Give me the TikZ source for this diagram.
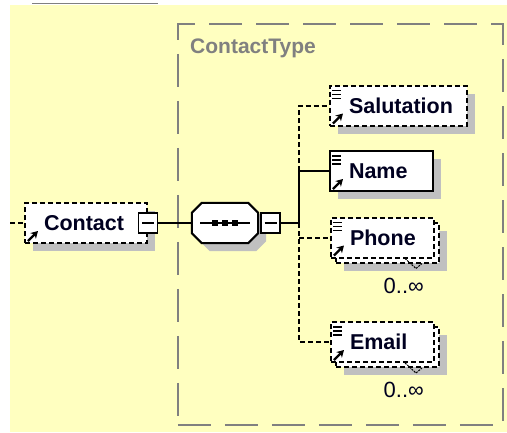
\documentclass[tikz,border=0pt]{standalone}
\usepackage{fontspec}
\setmainfont{Liberation Sans}
\usetikzlibrary{arrows.meta,positioning,shadows}
\definecolor{diagyellow}{RGB}{255,255,192}
\definecolor{shadowgray}{RGB}{192,192,192}
\definecolor{framegray}{RGB}{128,128,128}
\definecolor{nameink}{RGB}{0,0,32}

\begin{document}
\begin{tikzpicture}[x=1pt, y=-1pt,
    elem/.style={draw, line width=2pt, fill=white, anchor=west, minimum height=40pt,
      inner xsep=0pt, inner ysep=0pt, text width=#1, align=left, text=nameink,
      font=\fontsize{21.5}{24}\selectfont\bfseries, execute at begin node={\hspace*{19pt}}},
    shadowed/.style={drop shadow={shadow xshift=8pt, shadow yshift=-8pt, opacity=1, fill=shadowgray}},
    optional/.style={dash pattern=on 5pt off 3pt},
    minusbox/.style={draw, line width=1.6pt, fill=white, minimum width=19pt, minimum height=20pt, inner sep=0pt},
    conn/.style={line width=2pt},
    card/.style={font=\fontsize{22}{24}\selectfont, text=nameink, inner sep=0pt, anchor=north east}]
  \useasboundingbox (0,0) rectangle (507,432);
  \fill[white] (0,0) rectangle (507,432);
  \fill[diagyellow] (10,4.5) rectangle (507,432);
  \draw[framegray, line width=1.6pt] (32,3.5) -- (158,3.5);

  \node[draw=framegray, line width=1.6pt, dash pattern=on 33pt off 14pt, minimum width=325pt,
    minimum height=401pt, anchor=north west, inner sep=0pt] (contacttype) at (177,23) {};
  \node[font=\fontsize{21}{24}\selectfont\bfseries, text=framegray, anchor=west, inner sep=0pt]
    (contacttypelabel) at ([shift={(13,25)}]contacttype.north west) {ContactType};

  \node[elem=122pt, optional, shadowed] (contact) at (24,223) {Contact};
  \node[minusbox] (contactminus) at (contact.east) {};
  \draw[line width=1.6pt] ([xshift=-6pt]contactminus.center) -- ([xshift=6pt]contactminus.center);

  \node[minimum width=66pt, minimum height=40pt, inner sep=0pt] (seq) at (225,223) {};
  \draw[line width=2pt, fill=white, shadowed] ([xshift=10pt]seq.north west) -- ([xshift=-10pt]seq.north east)
    -- ([yshift=-10pt]seq.north east) -- ([yshift=10pt]seq.south east) -- ([xshift=-10pt]seq.south east)
    -- ([xshift=10pt]seq.south west) -- ([yshift=10pt]seq.south west) -- ([yshift=-10pt]seq.north west) -- cycle;
  \draw[line width=2pt] ([xshift=-25pt]seq.center) -- ([xshift=25pt]seq.center);
  \foreach \d in {-10,0,10}
    \fill ([xshift=\d pt]seq.center) ++(-3,-3) rectangle ++(6,6);
  \node[minusbox, right=2pt of seq] (seqminus) {};
  \draw[line width=1.6pt] ([xshift=-6pt]seqminus.center) -- ([xshift=6pt]seqminus.center);

  \node[elem=137pt, optional, shadowed] (salutation) at (329,105.5) {Salutation};
  \node[elem=103pt, shadowed] (name) at (329,171) {Name};
  \node[elem=103pt, optional, shadowed] (phoneback) at (335,242.5) {};
  \node[elem=103pt, optional] (phone) at ([shift={(-5,-5)}]phoneback.west) {Phone};
  \node[elem=103pt, optional, shadowed] (emailback) at (335,347) {};
  \node[elem=103pt, optional] (email) at ([shift={(-5,-5)}]emailback.west) {Email};

  \node[card] (phonecard) at ([shift={(-16,14)}]phoneback.south east) {0..∞};
  \node[card] (emailcard) at ([shift={(-16,14)}]emailback.south east) {0..∞};
  \draw[line width=1pt, dash pattern=on 2pt off 1pt] ([xshift=-30pt]phone.south east) -- ++(11,10) -- ++(6,-5);
  \draw[line width=1pt, dash pattern=on 2pt off 1pt] ([xshift=-30pt]email.south east) -- ++(11,10) -- ++(6,-5);

  \foreach \e in {salutation,name,phone,email}
    \foreach \d in {6,10,14}
      \draw[line width=1.2pt] ([shift={(3,\d)}]\e.north west) -- ++(9,0);
  \foreach \e in {contact,salutation,name,phone,email}
    \draw[line width=2.4pt, -{Stealth[length=7pt, width=8pt]}] ([shift={(4,-3)}]\e.south west) -- ++(10,-10);

  \coordinate (parent) at (10,223);
  \coordinate (trunk) at (299,223);
  \draw[conn, optional] (parent) -- (contact.west);
  \draw[conn] (contactminus.east) -- (seq.west);
  \draw[conn] (seqminus.east) -- (trunk) |- (name.west);
  \draw[conn, optional] (trunk |- name.west) |- (salutation.west);
  \draw[conn, optional] (trunk) |- (email.west);
  \draw[conn, optional] (trunk |- phone.west) -- (phone.west);
\end{tikzpicture}
\end{document}
